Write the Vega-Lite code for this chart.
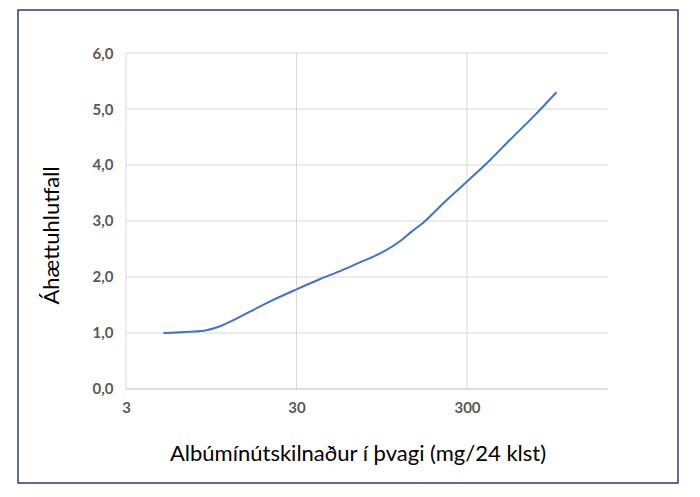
{
  "$schema": "https://vega.github.io/schema/vega-lite/v6.json",
  "width": 660,
  "height": 473,
  "autosize": {"type": "none"},
  "padding": {"left": 18, "top": 10, "right": 22, "bottom": 14},
  "background": "white",
  "config": {
    "view": {"stroke": "#2f3d6b", "strokeWidth": 1.5},
    "font": "Lato"
  },
  "datasets": {
    "curve": [
      {"alb": 4.97, "hr": 1.0},
      {"alb": 7.1, "hr": 1.02},
      {"alb": 8.9, "hr": 1.05},
      {"alb": 10.7, "hr": 1.12},
      {"alb": 12.8, "hr": 1.23},
      {"alb": 16, "hr": 1.38},
      {"alb": 21.9, "hr": 1.59},
      {"alb": 30, "hr": 1.78},
      {"alb": 41, "hr": 1.96},
      {"alb": 54.5, "hr": 2.11},
      {"alb": 70.6, "hr": 2.26},
      {"alb": 92.8, "hr": 2.42},
      {"alb": 124, "hr": 2.66},
      {"alb": 142, "hr": 2.81},
      {"alb": 166, "hr": 2.97},
      {"alb": 215, "hr": 3.3},
      {"alb": 299, "hr": 3.7},
      {"alb": 410, "hr": 4.09},
      {"alb": 536, "hr": 4.45},
      {"alb": 733, "hr": 4.86},
      {"alb": 1005, "hr": 5.3}
    ],
    "hgrid": [{"v": 1}, {"v": 2}, {"v": 3}, {"v": 4}, {"v": 5}, {"v": 6}],
    "vgrid": [{"v": 3}, {"v": 30}, {"v": 300}]
  },
  "layer": [
    {
      "data": {"name": "hgrid"},
      "mark": {"type": "rule", "color": "#d9d9d9", "strokeWidth": 1},
      "encoding": {
        "y": {"field": "v", "type": "quantitative"},
        "x": {"datum": 3, "type": "quantitative"},
        "x2": {"datum": 2000}
      }
    },
    {
      "data": {"name": "vgrid"},
      "mark": {"type": "rule", "color": "#d9d9d9", "strokeWidth": 1},
      "encoding": {
        "x": {"field": "v", "type": "quantitative"},
        "y": {"datum": 0, "type": "quantitative"},
        "y2": {"datum": 6}
      }
    },
    {
      "data": {"values": [{"v": 0}]},
      "mark": {"type": "rule", "color": "#bfbfbf", "strokeWidth": 1},
      "encoding": {
        "y": {"field": "v", "type": "quantitative"},
        "x": {"datum": 3, "type": "quantitative"},
        "x2": {"datum": 2000}
      }
    },
    {
      "data": {"name": "curve"},
      "mark": {"type": "line", "color": "#4472C4", "strokeWidth": 2, "interpolate": "monotone"},
      "encoding": {
        "x": {
          "field": "alb",
          "type": "quantitative",
          "scale": {"type": "log", "domain": [0.698, 5183], "nice": false},
          "axis": {
            "values": [3, 30, 300],
            "offset": -94,
            "grid": false,
            "domain": false,
            "ticks": false,
            "labelFont": "Lato",
            "labelFontWeight": "bold",
            "labelFontSize": 15,
            "labelColor": "#595959",
            "labelPadding": 11,
            "labelExpr": "format(datum.value, 'd')",
            "title": "Albúmínútskilnaður í þvagi (mg/24 klst)",
            "titleFont": "Lato",
            "titleFontWeight": "normal",
            "titleFontSize": 22,
            "titleColor": "#000000",
            "titleX": 339.5,
            "titleY": 71,
            "titleAlign": "center",
            "titleBaseline": "alphabetic"
          }
        },
        "y": {
          "field": "hr",
          "type": "quantitative",
          "scale": {"domain": [-1.679, 6.768], "nice": false, "zero": false},
          "axis": {
            "values": [0, 1, 2, 3, 4, 5, 6],
            "offset": -108,
            "grid": false,
            "domain": false,
            "ticks": false,
            "labelFont": "Lato",
            "labelFontWeight": "bold",
            "labelFontSize": 15,
            "labelColor": "#595959",
            "labelPadding": 13,
            "labelExpr": "replace(format(datum.value, '.1f'), '.', ',')",
            "title": "Áhættuhlutfall",
            "titleFont": "Lato",
            "titleFontWeight": "normal",
            "titleFontSize": 22,
            "titleColor": "#000000",
            "titleAngle": 270,
            "titleX": -75,
            "titleY": 225,
            "titleAlign": "center",
            "titleBaseline": "middle"
          }
        }
      }
    }
  ]
}
